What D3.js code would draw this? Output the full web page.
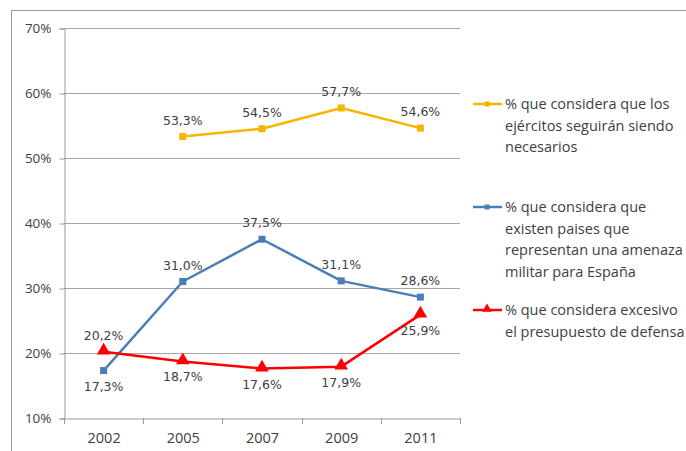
<!DOCTYPE html>
<html>
<head>
<meta charset="utf-8">
<script src="https://cdn.jsdelivr.net/npm/d3@7"></script>
<style>
  body { margin: 0; background: #fff; }
  svg { display: block; }
</style>
</head>
<body>
<svg id="chart" width="686" height="451"></svg>
<script>
// years on the x axis
const years = ["2002", "2005", "2007", "2009", "2011"];
const yTicks = [0.1, 0.2, 0.3, 0.4, 0.5, 0.6, 0.7];

// series values (null = no data)
const ejercitos = [null, 0.533, 0.545, 0.577, 0.546];
const amenaza = [0.173, 0.310, 0.375, 0.311, 0.286];
const presupuesto = [0.202, 0.187, 0.176, 0.179, 0.259];

// label side for each point: 1 = above, -1 = below
const ejercitosPos = [1, 1, 1, 1, 1];
const amenazaPos = [-1, 1, 1, 1, 1];
const presupuestoPos = [1, -1, -1, -1, -1];

const legendLines = [
  ["% que considera que los", "ejércitos seguirán siendo", "necesarios"],
  ["% que considera que", "existen paises que", "representan una amenaza", "militar para España"],
  ["% que considera excesivo", "el presupuesto de defensa"]
];

const series = [
  { values: ejercitos, pos: ejercitosPos, color: "#F7B500", marker: "square", legendY: 104 },
  { values: amenaza, pos: amenazaPos, color: "#4A7EBB", marker: "square", legendY: 207 },
  { values: presupuesto, pos: presupuestoPos, color: "#FF0000", marker: "triangle", legendY: 310 }
];

const svg = d3.select("#chart");
const plotLeft = 64, plotRight = 460, plotTop = 28, plotBottom = 418;

// outer frame
svg.append("rect")
  .attr("x", 11.5).attr("y", 10.5)
  .attr("width", 700).attr("height", 460)
  .attr("fill", "none").attr("stroke", "#9a9a9a").attr("stroke-width", 1);

const x = d3.scaleBand().domain(years).range([plotLeft, plotRight]);
const y = d3.scaleLinear().domain([0.1, 0.7]).range([plotBottom, plotTop]);

// gridlines
svg.append("g").selectAll("line")
  .data(yTicks.slice(1))
  .enter().append("line")
  .attr("x1", plotLeft).attr("x2", plotRight)
  .attr("y1", d => Math.round(y(d)) + 0.5).attr("y2", d => Math.round(y(d)) + 0.5)
  .attr("stroke", "#a6a6a6").attr("stroke-width", 1);

// y axis
const yAxis = svg.append("g")
  .attr("transform", `translate(${plotLeft + 0.5},0.5)`)
  .call(d3.axisLeft(y).tickValues(yTicks).tickFormat(d => Math.round(d * 100) + "%").tickSize(5).tickPadding(8));
yAxis.select(".domain").attr("stroke", "#9a9a9a");
yAxis.selectAll(".tick line").attr("stroke", "#9a9a9a");
yAxis.selectAll("text")
  .attr("font-family", "Open Sans, sans-serif").attr("font-size", 13.5).attr("fill", "#404040");

// x axis
const xAxis = svg.append("g")
  .attr("transform", `translate(0.5,${plotBottom + 0.5})`)
  .call(d3.axisBottom(x).tickSize(0).tickPadding(14));
xAxis.select(".domain").attr("stroke", "#9a9a9a");
xAxis.selectAll("text")
  .attr("font-family", "Open Sans, sans-serif").attr("font-size", 14.5).attr("fill", "#404040");
// tick marks between categories
svg.append("g").selectAll("line")
  .data(years.concat(["end"]))
  .enter().append("line")
  .attr("x1", (d, i) => Math.round(plotLeft + i * x.step()) + 0.5)
  .attr("x2", (d, i) => Math.round(plotLeft + i * x.step()) + 0.5)
  .attr("y1", plotBottom).attr("y2", plotBottom + 6)
  .attr("stroke", "#9a9a9a");

const cx = i => x(years[i]) + x.bandwidth() / 2;
const fmt = v => (v * 100).toFixed(1).replace(".", ",") + "%";

series.forEach(s => {
  const pts = s.values.map((v, i) => ({ v, i, pos: s.pos[i] })).filter(d => d.v !== null);
  const line = d3.line().x(d => cx(d.i)).y(d => y(d.v));
  svg.append("path").datum(pts)
    .attr("d", line).attr("fill", "none")
    .attr("stroke", s.color).attr("stroke-width", 2.5).attr("stroke-linejoin", "round");

  const g = svg.append("g");
  pts.forEach(d => {
    if (s.marker === "square") {
      g.append("rect")
        .attr("x", cx(d.i) - 3.5).attr("y", y(d.v) - 3.5)
        .attr("width", 7).attr("height", 7).attr("fill", s.color);
    } else {
      g.append("path")
        .attr("d", d3.symbol(d3.symbolTriangle, 80)())
        .attr("transform", `translate(${cx(d.i)},${y(d.v) - 1})`)
        .attr("fill", s.color);
    }
    g.append("text")
      .attr("x", cx(d.i))
      .attr("y", y(d.v) + (d.pos > 0 ? -12 : 20))
      .attr("text-anchor", "middle")
      .attr("font-family", "DejaVu Sans, sans-serif").attr("font-size", 12.5)
      .attr("fill", "#404040")
      .text(fmt(d.v));
  });
});

// legend
series.forEach((s, k) => {
  const lg = svg.append("g");
  lg.append("line")
    .attr("x1", 473).attr("x2", 502)
    .attr("y1", s.legendY).attr("y2", s.legendY)
    .attr("stroke", s.color).attr("stroke-width", 2.5);
  if (s.marker === "square") {
    lg.append("rect").attr("x", 484.5).attr("y", s.legendY - 2.5)
      .attr("width", 5).attr("height", 5).attr("fill", s.color);
  } else {
    lg.append("path").attr("d", d3.symbol(d3.symbolTriangle, 40)())
      .attr("transform", `translate(487,${s.legendY - 1})`).attr("fill", s.color);
  }
  lg.selectAll("text")
    .data(legendLines[k])
    .enter().append("text")
    .attr("x", 505)
    .attr("y", (d, i) => s.legendY + 5 + i * 21.5)
    .attr("font-family", "Open Sans, sans-serif").attr("font-size", 14.5)
    .attr("fill", "#404040")
    .text(d => d);
});
</script>
</body>
</html>
